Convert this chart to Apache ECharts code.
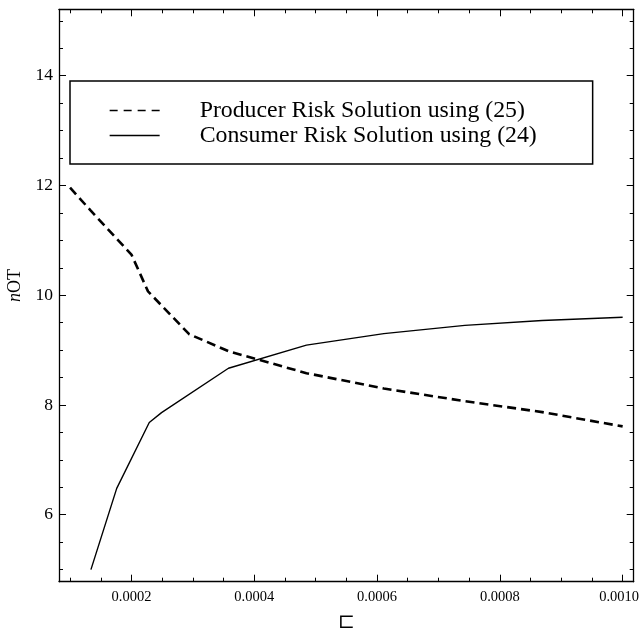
<!DOCTYPE html>
<html>
<head>
<meta charset="utf-8">
<script src="https://cdn.jsdelivr.net/npm/echarts@6/dist/echarts.min.js"></script>
<style>
html,body{margin:0;padding:0;background:#fff;}
#chart{width:639px;height:635px;}
</style>
</head>
<body>
<div id="chart"></div>
<script>
// ---- data ----
const seriesNames = ['Producer Risk Solution using (25)', 'Consumer Risk Solution using (24)'];
const xProducer = [0.0001, 0.000133, 0.000176, 0.0002, 0.000227, 0.000294, 0.000358, 0.000485, 0.000611, 0.000743, 0.000869, 0.001];
const yProducer = [11.96, 11.55, 11.03, 10.74, 10.07, 9.29, 8.98, 8.58, 8.30, 8.07, 7.87, 7.61];
const xConsumer = [0.000134, 0.000176, 0.000229, 0.000249, 0.000358, 0.000485, 0.000611, 0.000743, 0.000869, 0.001];
const yConsumer = [5.0, 6.48, 7.68, 7.86, 8.67, 9.09, 9.30, 9.45, 9.54, 9.60];
const xMajorTicks = [0.0002, 0.0004, 0.0006, 0.0008, 0.001];
const xMinorTicks = [0.0001, 0.00015, 0.00025, 0.0003, 0.00035, 0.00045, 0.0005, 0.00055, 0.00065, 0.0007, 0.00075, 0.00085, 0.0009, 0.00095];
const yMajorTicks = [6, 8, 10, 12, 14];
const yMinorTicks = [5, 5.5, 6.5, 7, 7.5, 8.5, 9, 9.5, 10.5, 11, 11.5, 12.5, 13, 13.5, 14.5, 15];
const xRange = [0.000082, 0.001018];
const yRange = [4.78, 15.21];

// ---- chart ----
const FONT = 'Liberation Serif';
const chart = echarts.init(document.getElementById('chart'), null, {renderer: 'canvas'});

function xAx(pos, major, withLabel, withLine) {
  return {
    type: 'value', position: pos, min: xRange[0], max: xRange[1],
    splitLine: {show: false},
    axisLine: {show: withLine, lineStyle: {color: '#000', width: 1.3}},
    axisTick: {show: true, inside: true, length: major ? 7 : 4,
      customValues: major ? xMajorTicks : xMinorTicks,
      lineStyle: {color: '#000', width: 1}},
    axisLabel: withLabel ? {show: true, customValues: xMajorTicks, margin: 8,
      fontFamily: FONT, fontSize: 14.5, color: '#000',
      rich: {last: {fontFamily: FONT, fontSize: 14.5, color: '#000', padding: [0, 7, 0, 0]}},
      formatter: v => {
        const s = Number(v).toFixed(4);
        return Math.abs(v - xMajorTicks[xMajorTicks.length - 1]) < 1e-9 ? '{last|' + s + '}' : s;
      }} : {show: false}
  };
}
function yAx(pos, major, withLabel, withLine) {
  return {
    type: 'value', position: pos, min: yRange[0], max: yRange[1],
    splitLine: {show: false},
    axisLine: {show: withLine, lineStyle: {color: '#000', width: 1.3}},
    axisTick: {show: true, inside: true, length: major ? 7 : 4,
      customValues: major ? yMajorTicks : yMinorTicks,
      lineStyle: {color: '#000', width: 1}},
    axisLabel: withLabel ? {show: true, customValues: yMajorTicks, margin: 6,
      fontFamily: FONT, fontSize: 17.5, color: '#000',
      formatter: v => String(Math.round(v))} : {show: false}
  };
}

const xAxes = [
  Object.assign(xAx('bottom', true, true, true), {
    name: '\u228F', nameLocation: 'middle', nameGap: 31,
    nameTextStyle: {fontFamily: 'DejaVu Serif', fontSize: 20, color: '#000'}
  }),
  xAx('bottom', false, false, false),
  xAx('top', true, false, true),
  xAx('top', false, false, false)
];
const yAxes = [
  Object.assign(yAx('left', true, true, true), {
    name: '{i|n}OT', nameLocation: 'middle', nameGap: 31, nameRotate: 90,
    nameTextStyle: {fontFamily: FONT, fontSize: 18, color: '#000', padding: [0, 0, 0, 20],
      rich: {i: {fontFamily: FONT, fontStyle: 'italic', fontSize: 18, color: '#000'}}}
  }),
  yAx('left', false, false, false),
  yAx('right', true, false, true),
  yAx('right', false, false, false)
];

const hiddenSymbol = {color: 'rgba(0,0,0,0)', borderColor: 'rgba(0,0,0,0)', borderWidth: 0, opacity: 0};

const option = {
  animation: false,
  backgroundColor: '#fff',
  grid: {left: 59, top: 9.3, right: 5.3, bottom: 53.3, containLabel: false, outerBoundsMode: 'none'},
  xAxis: xAxes,
  yAxis: yAxes,
  legend: {
    show: true, orient: 'vertical', left: 70, top: 81,
    padding: [17, 33, 16, 39],
    itemGap: 0, itemWidth: 50, itemHeight: 14,
    borderColor: '#000', borderWidth: 1.5, backgroundColor: '#fff',
    textStyle: {fontFamily: FONT, fontSize: 23.8, color: '#000', lineHeight: 25,
      width: 360, padding: [0, 0, 0, 35]},
    data: [
      {name: seriesNames[0], itemStyle: hiddenSymbol,
        lineStyle: {color: '#000', width: 1.3, type: [8, 6]}},
      {name: seriesNames[1], itemStyle: hiddenSymbol,
        lineStyle: {color: '#000', width: 1.3, type: 'solid'}}
    ]
  },
  series: [
    {
      name: seriesNames[0], type: 'line', xAxisIndex: 0, yAxisIndex: 0,
      symbol: 'none', smooth: false,
      lineStyle: {color: '#000', width: 2.6, type: [9, 5]},
      itemStyle: {color: '#000'},
      data: xProducer.map((x, i) => [x, yProducer[i]])
    },
    {
      name: seriesNames[1], type: 'line', xAxisIndex: 0, yAxisIndex: 0,
      symbol: 'none', smooth: false,
      lineStyle: {color: '#000', width: 1.4, type: 'solid'},
      itemStyle: {color: '#000'},
      data: xConsumer.map((x, i) => [x, yConsumer[i]])
    }
  ]
};
chart.setOption(option);
</script>
</body>
</html>
